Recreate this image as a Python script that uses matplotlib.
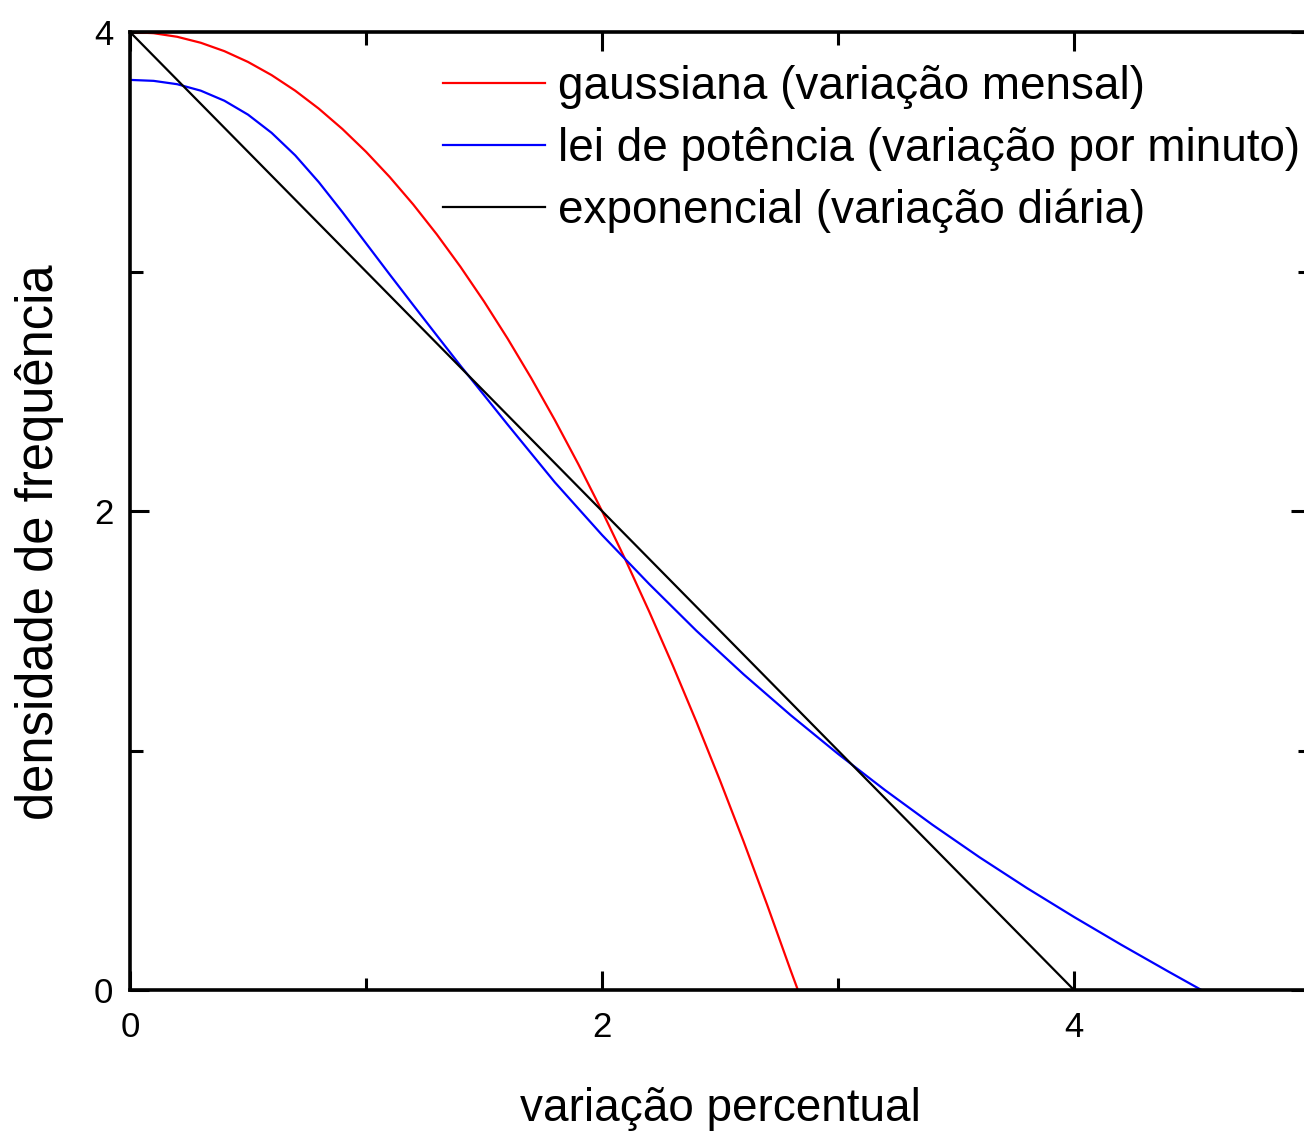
import matplotlib
matplotlib.use("Agg")
import matplotlib.pyplot as plt
from matplotlib.ticker import MultipleLocator, NullFormatter

plt.rcParams['font.family'] = ['Liberation Sans', 'DejaVu Sans']

# curvas em escala logarítmica de densidade
x_gauss = [0.0, 0.1, 0.2, 0.3, 0.4, 0.5, 0.6, 0.7, 0.8, 0.9, 1.0, 1.1, 1.2, 1.3,
           1.4, 1.5, 1.6, 1.7, 1.8, 1.9, 2.0, 2.1, 2.2, 2.3, 2.4, 2.5, 2.6, 2.7,
           2.8, 2.83]
y_gauss = [4.000, 3.995, 3.980, 3.955, 3.920, 3.875, 3.820, 3.755, 3.680,
           3.595, 3.500, 3.395, 3.280, 3.155, 3.020, 2.875, 2.720, 2.555,
           2.380, 2.195, 2.000, 1.795, 1.580, 1.355, 1.120, 0.875, 0.620,
           0.355, 0.080, 0.0]

x_pot = [0.0, 0.1, 0.2, 0.3, 0.4, 0.5, 0.6, 0.7, 0.8, 0.9, 1.0, 1.1, 1.2,
         1.3, 1.4, 1.6, 1.8, 2.0, 2.2, 2.4, 2.6, 2.8, 3.0, 3.2, 3.4, 3.6,
         3.8, 4.0, 4.2, 4.4, 4.54]
y_pot = [3.800, 3.796, 3.782, 3.755, 3.713, 3.655, 3.579, 3.485, 3.373,
         3.248, 3.118, 2.988, 2.860, 2.733, 2.607, 2.361, 2.120, 1.900,
         1.695, 1.500, 1.318, 1.147, 0.986, 0.834, 0.690, 0.554, 0.426,
         0.305, 0.189, 0.077, 0.0]

x_exp = [0.0, 4.0]
y_exp = [4.0, 0.0]

labels = ['gaussiana (variação mensal)',
          'lei de potência (variação por minuto)',
          'exponencial (variação diária)']

W, H = 1304, 1133
fig = plt.figure(figsize=(W / 100, H / 100), dpi=100)
ax = fig.add_axes([130 / W, 1 - 990 / H, 1180 / W, 958 / H])

ax.plot(x_gauss, y_gauss, color='#ff0000', lw=1.6, label=labels[0])
ax.plot(x_pot, y_pot, color='#0000ff', lw=1.6, label=labels[1])
ax.plot(x_exp, y_exp, color='black', lw=1.6, label=labels[2])

ax.set_xlim(0, 5)
ax.set_ylim(0, 4)

ax.xaxis.set_major_locator(MultipleLocator(2))
ax.xaxis.set_minor_locator(MultipleLocator(1))
ax.yaxis.set_major_locator(MultipleLocator(2))
ax.yaxis.set_minor_locator(MultipleLocator(1))
ax.xaxis.set_minor_formatter(NullFormatter())
ax.yaxis.set_minor_formatter(NullFormatter())

for s in ax.spines.values():
    s.set_linewidth(2.6)
ax.tick_params(which='both', direction='in', top=True, right=True, width=2.2)
ax.tick_params(which='major', length=14, labelsize=25, pad=12)
ax.tick_params(axis='x', which='major', pad=15)
ax.tick_params(which='minor', length=9)

ax.set_xlabel('variação percentual', fontsize=33)
ax.set_ylabel('densidade de frequência', fontsize=36.5)
ax.xaxis.set_label_coords(0.5, -0.101)
ax.yaxis.set_label_coords(-0.056, 0.4676)

ax.legend(loc='upper left', bbox_to_anchor=(313 / 1180, 0.9655), frameon=False,
          fontsize=33, handlelength=2.23, handletextpad=0.28, labelspacing=0.39,
          borderaxespad=0, borderpad=0)

fig.savefig('out.png', dpi=100)
